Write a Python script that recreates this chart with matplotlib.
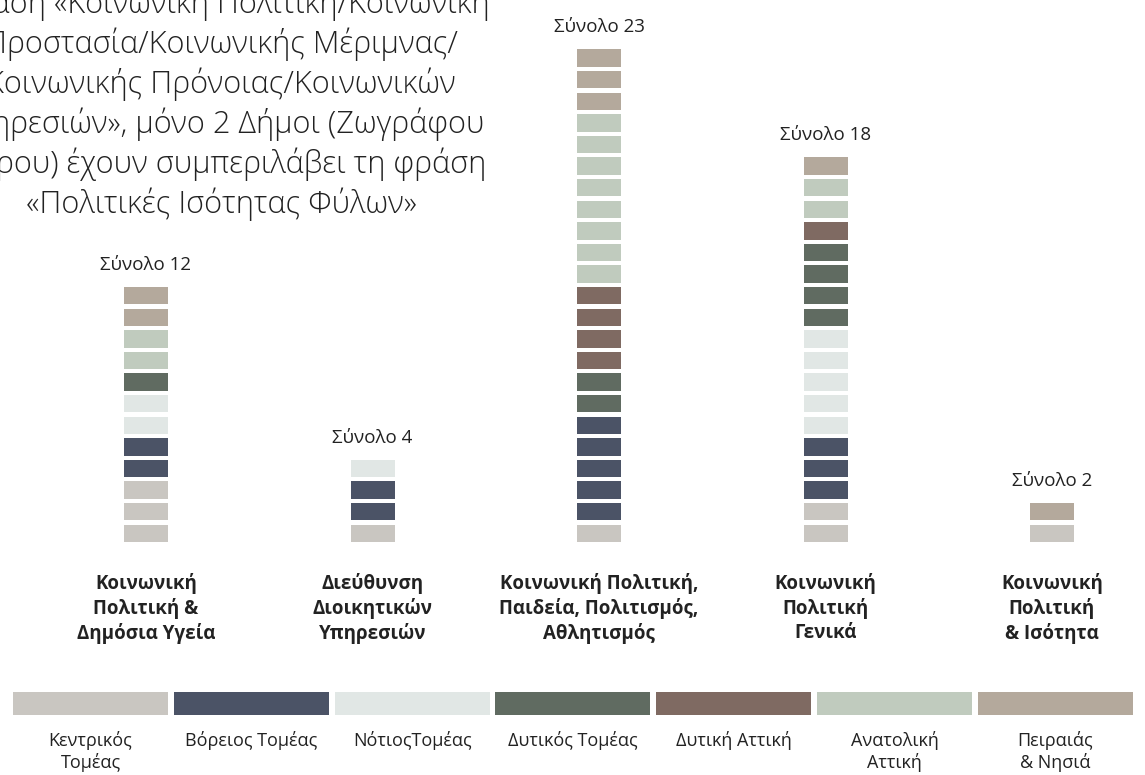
import matplotlib
matplotlib.use("Agg")
import matplotlib.pyplot as plt

plt.rcParams['font.family'] = ['Open Sans', 'DejaVu Sans']

# regions (legend order, also stacking order from the bottom)
regions = ['Κεντρικός\nΤομέας', 'Βόρειος Τομέας', 'ΝότιοςΤομέας', 'Δυτικός Τομέας',
           'Δυτική Αττική', 'Ανατολική\nΑττική', 'Πειραιάς\n& Νησιά']
colors = ['#C9C6C1', '#4B5366', '#E1E7E5', '#606B61', '#7F6A62', '#C0CBBE', '#B4A99C']

categories = ['Κοινωνική\nΠολιτική &\nΔημόσια Υγεία',
              'Διεύθυνση\nΔιοικητικών\nΥπηρεσιών',
              'Κοινωνική Πολιτική,\nΠαιδεία, Πολιτισμός,\nΑθλητισμός',
              'Κοινωνική\nΠολιτική\nΓενικά',
              'Κοινωνική\nΠολιτική\n& Ισότητα']

# number of municipalities per region, for each category
counts = [
    [3, 2, 2, 1, 0, 2, 2],
    [1, 2, 1, 0, 0, 0, 0],
    [1, 5, 0, 2, 4, 8, 3],
    [2, 3, 5, 4, 1, 2, 1],
    [1, 0, 0, 0, 0, 0, 1],
]

note_lines = ['φράση «Κοινωνική Πολιτική/Κοινωνική',
              'Προστασία/Κοινωνικής Μέριμνας/',
              'Κοινωνικής Πρόνοιας/Κοινωνικών',
              'Υπηρεσιών», μόνο 2 Δήμοι (Ζωγράφου',
              'Πόρου) έχουν συμπεριλάβει τη φράση',
              '«Πολιτικές Ισότητας Φύλων»']

W, H = 1145, 775
fig = plt.figure(figsize=(W / 100, H / 100), dpi=100)

# main axes: x = category index, y = block units
col0, col_step = 146, 226.5
unit = 21.6
base_px = 542  # bottom of lowest block, px from top
ax = fig.add_axes([0, 0, 1, 1])
ax.set_xlim(-col0 / col_step, (W - col0) / col_step)
ax.set_ylim(-(H - base_px) / unit, base_px / unit)
ax.axis('off')

block_w = 44 / col_step
block_h = 17.5 / unit
for i, row in enumerate(counts):
    k = 0
    for r, n in enumerate(row):
        for _ in range(n):
            ax.bar(i, block_h, bottom=k, width=block_w, color=colors[r],
                   edgecolor='none')
            k += 1
    ax.text(i, k - 1 + block_h + 22 / unit, 'Σύνολο %d' % sum(row),
            ha='center', va='center', fontsize=13.5, color='#222222')

# overlay axes in pixel coordinates for labels, legend and note
pax = fig.add_axes([0, 0, 1, 1])
pax.set_xlim(0, W)
pax.set_ylim(H, 0)
pax.axis('off')
pax.patch.set_alpha(0)

for i, cat in enumerate(categories):
    for j, line in enumerate(cat.split('\n')):
        pax.text(col0 + i * col_step, 584 + j * 24.5, line, ha='center',
                 va='center', fontsize=13.5, fontweight='bold', color='#222222')

leg_x0, leg_step, leg_w = 13, 160.8, 155
for r, name in enumerate(regions):
    pax.barh(703.5, leg_w, left=leg_x0 + r * leg_step, height=23,
             color=colors[r], edgecolor='none')
    cx = leg_x0 + r * leg_step + leg_w / 2
    for j, line in enumerate(name.split('\n')):
        pax.text(cx, 741 + j * 21.5, line, ha='center', va='center',
                 fontsize=13, color='#222222')

note_texts = []
for j, line in enumerate(note_lines):
    t = pax.text(221, 13 + j * 40, line, ha='center', va='baseline',
                 fontsize=17, fontweight='light', color='#222222')
    note_texts.append(t)

# size the note so its last line is about 392 px wide
fig.canvas.draw()
w = note_texts[-1].get_window_extent().width
for t in note_texts:
    t.set_fontsize(17 * 392 / w)

fig.savefig('out.png', dpi=100)
